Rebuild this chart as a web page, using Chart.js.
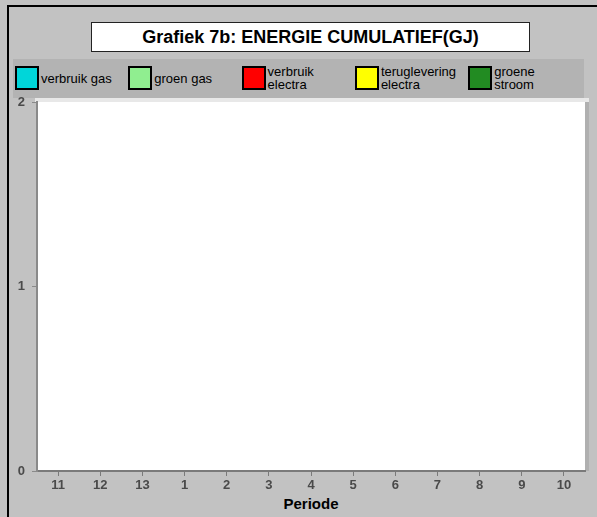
<!DOCTYPE html>
<html>
<head>
<meta charset="utf-8">
<script src="https://cdn.jsdelivr.net/npm/chart.js@4/dist/chart.umd.min.js"></script>
<style>
  body { margin: 0; background: #c2c2c2; font-family: Arial, "Liberation Sans", sans-serif; }
  #frame { position: absolute; left: 7px; top: 5px; right: 0; bottom: 0; border-left: 2px solid #000; border-top: 2px solid #000; }
  #title { position: absolute; left: 91px; top: 22px; width: 437px; height: 28px; background: #fff; border: 1px solid #222;
           font-weight: bold; font-size: 18px; line-height: 29px; text-align: center; color: #000; }
  #strip { position: absolute; left: 13px; top: 59px; width: 571px; height: 39px; background: #b3b3b3; }
  .item { position: absolute; top: 66px; height: 24px; display: flex; align-items: center; }
  .box { width: 20px; height: 20px; border: 2px solid #000; }
  .lbl { margin-left: 2px; font-size: 13px; line-height: 13px; white-space: pre-line; color: #000; }
  #xtitle { position: absolute; left: 211px; width: 200px; top: 495px; text-align: center; font-weight: bold; font-size: 15px; }
  canvas { position: absolute; left: 0; top: 0; }
</style>
</head>
<body>
<div id="frame"></div>
<div id="title">Grafiek 7b: ENERGIE CUMULATIEF(GJ)</div>
<div id="strip"></div>
<div id="legend"></div>
<div id="xtitle">Periode</div>
<canvas id="chart" width="597" height="517"></canvas>
<script>
// perioden op de x-as
var periods = ["11", "12", "13", "1", "2", "3", "4", "5", "6", "7", "8", "9", "10"];
var seriesNames = ["verbruik gas", "groen gas", "verbruik\nelectra", "teruglevering\nelectra", "groene\nstroom"];
var seriesColors = ["#00d6d9", "#90ee90", "#ff0000", "#ffff00", "#228b22"];
// geen waarden ingevuld in de grafiek
var verbruikGas = [null, null, null, null, null, null, null, null, null, null, null, null, null];
var groenGas = [null, null, null, null, null, null, null, null, null, null, null, null, null];
var verbruikElectra = [null, null, null, null, null, null, null, null, null, null, null, null, null];
var terugleveringElectra = [null, null, null, null, null, null, null, null, null, null, null, null, null];
var groeneStroom = [null, null, null, null, null, null, null, null, null, null, null, null, null];
var yTicks = [0, 1, 2];

var seriesData = [verbruikGas, groenGas, verbruikElectra, terugleveringElectra, groeneStroom];

// legenda
var legend = document.getElementById("legend");
seriesNames.forEach(function(name, i) {
    var d = document.createElement("div");
    d.className = "item";
    d.style.left = (15 + i * 113.3) + "px";
    d.innerHTML = '<div class="box" style="background:' + seriesColors[i] + '"></div><div class="lbl">' + name + '</div>';
    legend.appendChild(d);
});

var plotBg = {
    id: "plotBg",
    beforeDraw: function(chart) {
        var a = chart.chartArea, c = chart.ctx;
        c.save();
        c.fillStyle = "#e8e8e8";
        c.fillRect(a.left - 2, a.top - 4, a.right - a.left + 6, 4);
        c.fillStyle = "#b0b0b0";
        c.fillRect(a.right, a.top, 4, a.bottom - a.top);
        c.fillStyle = "#fff";
        c.fillRect(a.left, a.top, a.right - a.left, a.bottom - a.top);
        c.restore();
    }
};

var tickFont = { family: "Arial", size: 13, weight: "bold" };

new Chart(document.getElementById("chart"), {
    type: "bar",
    data: {
        labels: periods,
        datasets: seriesData.map(function(d, i) {
            return { label: seriesNames[i], data: d, backgroundColor: seriesColors[i], borderColor: "#000", borderWidth: 1 };
        })
    },
    options: {
        responsive: false,
        animation: false,
        layout: { padding: { left: 0, top: 102, right: 12, bottom: 0 } },
        plugins: { legend: { display: false }, tooltip: { enabled: false } },
        scales: {
            x: {
                grid: { drawOnChartArea: false, offset: false, tickLength: 5, color: "#7a7a7a" },
                border: { color: "#7a7a7a", width: 2 },
                ticks: { color: "#4a4a4a", font: tickFont, padding: 2, maxRotation: 0 },
                afterFit: function(s) { s.height = 46; }
            },
            y: {
                min: 0,
                max: 2,
                afterBuildTicks: function(s) { s.ticks = yTicks.map(function(v) { return { value: v }; }); },
                grid: { drawOnChartArea: false, tickLength: 5, color: "#8a8a8a" },
                border: { color: "#8a8a8a", width: 2 },
                ticks: { color: "#4a4a4a", font: tickFont, padding: 7 },
                afterFit: function(s) { s.width = 37; }
            }
        }
    },
    plugins: [plotBg]
});
</script>
</body>
</html>
